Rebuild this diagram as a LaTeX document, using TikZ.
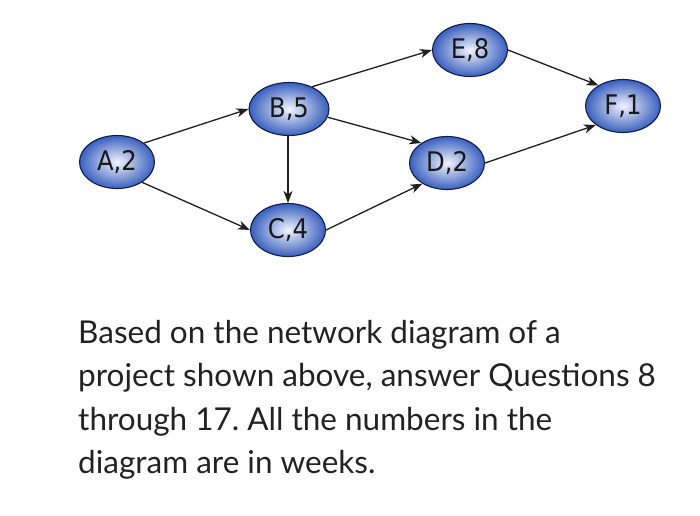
\documentclass[tikz,border=0pt]{standalone}
\usepackage{fontspec}
\setmainfont{Lato}
\newfontfamily\nodefont{DejaVu Sans Condensed}
\usetikzlibrary{shapes.geometric,arrows.meta}
\definecolor{nodeouter}{RGB}{58,96,190}
\definecolor{nodeinner}{RGB}{242,244,253}
\definecolor{nodeborder}{RGB}{18,28,72}
\definecolor{txt}{RGB}{34,34,34}
\frenchspacing
\begin{document}
\begin{tikzpicture}[x=1pt,y=-1pt,
  task/.style={ellipse, draw=nodeborder, line width=1.1pt, minimum width=75pt, minimum height=53pt,
    inner sep=0pt, inner color=nodeinner, outer color=nodeouter,
    font=\nodefont\fontsize{27}{27}\selectfont, text=black!90},
  link/.style={draw=black!88, line width=1.3pt, -{Stealth[length=12pt,width=9pt,inset=3.5pt]}},
  para/.style={anchor=base west, inner sep=0pt, font=\fontsize{31.5}{31.5}\selectfont, text=txt}]
\useasboundingbox (0,0) rectangle (700,515);
\node[task] (A) at (117,162) {A,2};
\node[task, minimum width=80pt] (B) at (289,109) {B,5};
\node[task] (C) at (288,230) {C,4};
\node[task] (D) at (447,163) {D,2};
\node[task] (E) at (470,50) {E,8};
\node[task] (F) at (623,106) {F,1};
\path[link] (A.35) -- (B.west);
\path[link] (A.-39) -- (C.west);
\path[link] (B.south -| C.north) -- (C.north);
\path[link] (B.44) -- (E.west);
\path[link] (B.-12) -- (D.142);
\path[link] (C.east) -- (D.-140);
\path[link] (E.east) -- (F.140);
\path[link] (D.east) -- (F.-145);
\node[para] (l1) at (78,343) {Based on the network diagram of a};
\node[para] (l2) at (78,386.5) {project shown above, answer Questions 8};
\node[para] (l3) at (78,430) {through 17. All the numbers in the};
\node[para] (l4) at (78,473.5) {diagram are in weeks.};
\end{tikzpicture}
\end{document}
